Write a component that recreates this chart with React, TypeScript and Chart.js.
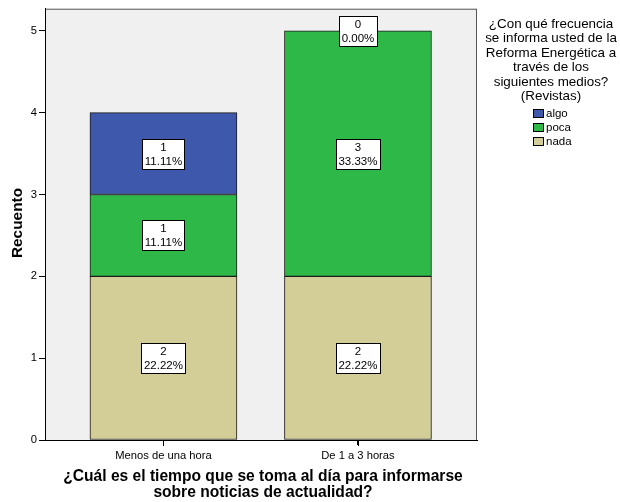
import React, { useEffect, useRef } from "react";
import { Chart, registerables } from "chart.js";

Chart.register(...registerables);

const categories = ["Menos de una hora", "De 1 a 3 horas"];
const seriesNames = ["nada", "poca", "algo"];
const nadaValues = [2, 2];
const pocaValues = [1, 3];
const algoValues = [1, 0];
const seriesColors = ["#D3CE97", "#2EB848", "#3E58AC"];
const yTickValues = [0, 1, 2, 3, 4, 5];
const legendTitleLines = [
  "¿Con qué frecuencia",
  "se informa usted de la",
  "Reforma Energética a",
  "través de los",
  "siguientes medios?",
  "(Revistas)",
];
const xTitleLines = [
  "¿Cuál es el tiempo que se toma al día para informarse",
  "sobre noticias de actualidad?",
];
const yTitle = "Recuento";

const FONT = '"Liberation Sans", Arial, sans-serif';

export default function App() {
  const ref = useRef<HTMLCanvasElement | null>(null);

  useEffect(() => {
    if (!ref.current) return;
    const seriesValues = [nadaValues, pocaValues, algoValues];
    const total = seriesValues.flat().reduce((a, b) => a + b, 0);

    const bgPlugin = {
      id: "bgPlugin",
      beforeDraw(chart: any) {
        const { ctx, chartArea: a } = chart;
        ctx.save();
        ctx.fillStyle = "#ffffff";
        ctx.fillRect(0, 0, chart.width, chart.height);
        ctx.fillStyle = "#F0F0F0";
        ctx.fillRect(a.left, a.top, a.right - a.left, a.bottom - a.top);
        ctx.strokeStyle = "#555555";
        ctx.lineWidth = 1;
        ctx.strokeRect(a.left + 0.5, a.top + 0.5, a.right - a.left - 1, a.bottom - a.top);
        ctx.restore();
      },
    };

    const labelPlugin = {
      id: "labelPlugin",
      afterDatasetsDraw(chart: any) {
        const { ctx } = chart;
        ctx.save();
        ctx.font = "11.5px " + FONT;
        chart.data.datasets.forEach((ds: any, di: number) => {
          const meta = chart.getDatasetMeta(di);
          meta.data.forEach((bar: any, i: number) => {
            const { x, y, base } = bar.getProps(["x", "y", "base"], true);
            const v = ds.data[i].y;
            const cy = (y + base) / 2;
            const l1 = String(v);
            const l2 = ((v / total) * 100).toFixed(2) + "%";
            const w = Math.round(Math.max(ctx.measureText(l1).width, ctx.measureText(l2).width) + 5);
            const h = 30;
            const bx = Math.round(x - w / 2) + 0.5;
            const by = Math.round(cy - h / 2) + 0.5;
            ctx.fillStyle = "#ffffff";
            ctx.fillRect(bx, by, w, h);
            ctx.strokeStyle = "#000000";
            ctx.lineWidth = 1;
            ctx.strokeRect(bx, by, w, h);
            ctx.fillStyle = "#000000";
            ctx.textAlign = "center";
            ctx.textBaseline = "middle";
            ctx.fillText(l1, x, by + 8);
            ctx.fillText(l2, x, by + 22.5);
          });
        });
        ctx.restore();
      },
    };

    const textPlugin = {
      id: "textPlugin",
      afterDraw(chart: any) {
        const { ctx, chartArea: a } = chart;
        ctx.save();
        const xs = chart.scales.x;
        ctx.strokeStyle = "#000000";
        ctx.lineWidth = 1;
        categories.forEach((_, i) => {
          const px = Math.round(xs.getPixelForValue(i)) + 0.5;
          ctx.beginPath();
          ctx.moveTo(px, a.bottom);
          ctx.lineTo(px, a.bottom + 6);
          ctx.stroke();
        });
        ctx.fillStyle = "#000000";
        ctx.textAlign = "center";
        ctx.textBaseline = "middle";
        ctx.font = "bold 15.6px " + FONT;
        xTitleLines.forEach((t, i) => ctx.fillText(t, 263, 477 + i * 16));
        ctx.save();
        ctx.font = "bold 15.4px " + FONT;
        ctx.translate(18, 223);
        ctx.rotate(-Math.PI / 2);
        ctx.fillText(yTitle, 0, 0);
        ctx.restore();
        ctx.font = "13.4px " + FONT;
        legendTitleLines.forEach((t, i) => ctx.fillText(t, 551, 24 + i * 14.5));
        ctx.font = "11.5px " + FONT;
        ctx.textAlign = "left";
        const order = [2, 1, 0];
        order.forEach((si, r) => {
          const yy = 113 + r * 14.2;
          const top = Math.round(yy - 4.5);
          ctx.fillStyle = seriesColors[si];
          ctx.fillRect(533, top, 11, 9);
          ctx.strokeStyle = "#000000";
          ctx.lineWidth = 1;
          ctx.strokeRect(533.5, top + 0.5, 10, 8);
          ctx.fillStyle = "#000000";
          ctx.fillText(seriesNames[si], 546, yy + 0.5);
        });
        ctx.restore();
      },
    };

    const chart = new Chart(ref.current, {
      type: "bar",
      data: {
        datasets: seriesValues.map((vals, si) => ({
          label: seriesNames[si],
          data: vals.map((v, i) => ({ x: i, y: v })),
          backgroundColor: seriesColors[si],
          borderColor: "#1a1a1a",
          borderWidth: 1,
          borderSkipped: false,
          barThickness: 147,
        })),
      },
      options: {
        responsive: false,
        animation: false,
        events: [],
        layout: { padding: { left: 0, right: 143, top: 7, bottom: 0 } },
        plugins: { legend: { display: false }, tooltip: { enabled: false } },
        scales: {
          x: {
            type: "linear",
            stacked: true,
            offset: false,
            bounds: "data",
            min: -0.609,
            max: 1.612,
            afterBuildTicks(scale: any) {
              scale.ticks = categories.map((_, i) => ({ value: i }));
            },
            afterFit(scale: any) {
              scale.height = 62;
            },
            ticks: {
              callback: (v: any) => categories[Math.round(Number(v))] ?? "",
              font: { family: FONT, size: 11.2 },
              color: "#000000",
              padding: 4,
              maxRotation: 0,
              autoSkip: false,
            },
            grid: { offset: false, drawOnChartArea: false, drawTicks: true, tickLength: 5, color: "#000000" },
            border: { display: true, color: "#000000" },
          },
          y: {
            type: "linear",
            stacked: true,
            min: 0,
            max: 5.27,
            afterBuildTicks(scale: any) {
              scale.ticks = yTickValues.map((v) => ({ value: v }));
            },
            afterFit(scale: any) {
              scale.width = 45;
            },
            ticks: {
              font: { family: FONT, size: 11.2 },
              color: "#000000",
              padding: 2,
            },
            grid: { drawOnChartArea: false, drawTicks: true, tickLength: 6, color: "#000000" },
            border: { display: true, color: "#000000" },
          },
        },
      },
      plugins: [bgPlugin, labelPlugin, textPlugin],
    });
    return () => chart.destroy();
  }, []);

  return (
    <div style={{ position: "fixed", left: 0, top: 0, width: 620, height: 502, background: "#fff" }}>
      <canvas ref={ref} width={620} height={502} style={{ display: "block" }} />
    </div>
  );
}
